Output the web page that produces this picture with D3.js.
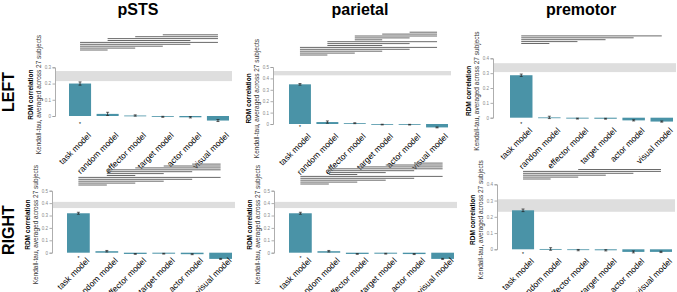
<!DOCTYPE html>
<html>
<head>
<meta charset="utf-8">
<script src="https://cdn.jsdelivr.net/npm/d3@7"></script>
<style>
  body { margin: 0; background: #fff; }
  svg text { font-family: "Liberation Sans", Arial, sans-serif; }
</style>
</head>
<body>
<div id="chart"></div>
<script>
var svgWidth = 677;
var svgHeight = 292;

// data
var models = ["task model", "random model", "effector model", "target model", "actor model", "visual model"];
var regions = ["pSTS", "parietal", "premotor"];
var hemispheres = ["LEFT", "RIGHT"];

var leftMeans = [
  [0.200, 0.013, 0.003, -0.005, -0.008, -0.028],
  [0.348, 0.017, 0.007, -0.005, -0.006, -0.030],
  [0.286, 0.002, -0.006, -0.007, -0.018, -0.026]
];
var leftErrors = [
  [0.010, 0.010, 0.004, 0.003, 0.004, 0.006],
  [0.007, 0.010, 0.004, 0.003, 0.003, 0.004],
  [0.008, 0.008, 0.003, 0.003, 0.004, 0.004]
];
var rightMeans = [
  [0.318, 0.012, -0.010, -0.008, -0.012, -0.050],
  [0.318, 0.012, -0.010, -0.008, -0.011, -0.050],
  [0.240, 0.002, -0.005, -0.006, -0.016, -0.016]
];
var rightErrors = [
  [0.008, 0.006, 0.003, 0.003, 0.004, 0.004],
  [0.008, 0.006, 0.003, 0.003, 0.004, 0.004],
  [0.008, 0.008, 0.004, 0.004, 0.006, 0.004]
];
// noise ceiling (lower, upper)
var leftCeilings = [[0.215, 0.277], [0.427, 0.465], [0.307, 0.367]];
var rightCeilings = [[0.360, 0.410], [0.360, 0.410], [0.231, 0.308]];
var leftTicks = [[0, 0.1, 0.2, 0.3], [0, 0.1, 0.2, 0.3, 0.4, 0.5], [0, 0.1, 0.2, 0.3, 0.4]];
var rightTicks = [[0, 0.1, 0.2, 0.3, 0.4, 0.5], [0, 0.1, 0.2, 0.3, 0.4, 0.5], [0, 0.1, 0.2, 0.3, 0.4]];

// significant pairwise differences, listed bottom line first
var leftSig = [
  [[0,1],[0,2],[0,3],[0,4],[0,5],[1,4],[1,5],[2,5],[3,5]],
  [[0,1],[0,2],[0,3],[0,4],[0,5],[1,3],[1,4],[1,5],[2,3],[2,4],[2,5],[3,5],[4,5]],
  [[0,1],[0,2],[0,3],[0,4],[0,5]]
];
var rightSig = [
  [[0,1],[0,2],[0,3],[0,4],[0,5],[1,2],[1,3],[1,4],[1,5],[2,5],[3,5],[4,5]],
  [[0,1],[0,2],[0,3],[0,4],[0,5],[1,2],[1,3],[1,4],[1,5],[2,5],[3,5],[4,5]],
  [[0,1],[0,2],[0,3],[0,4],[0,5],[2,5]]
];

// panel frames (pixels)
var frames = [
  [
    {axisX: 55, barL: 69, barR: 229, yTop: 67.3, y0: 116, sigY: 50, labelDy: 20, starDy: 10},
    {axisX: 273, barL: 289, barR: 448, yTop: 67, y0: 124, sigY: 55, labelDy: 13, starDy: 5},
    {axisX: 493, barL: 510, barR: 673, yTop: 58.3, y0: 117.7, sigY: 43.5, labelDy: 13.5, starDy: 8}
  ],
  [
    {axisX: 52, barL: 67, barR: 232, yTop: 190.7, y0: 252.7, sigY: 185, labelDy: 8.5, starDy: 7.5},
    {axisX: 274, barL: 289, barR: 454, yTop: 190.7, y0: 252.7, sigY: 184, labelDy: 8.5, starDy: 7},
    {axisX: 497, barL: 512, barR: 672, yTop: 184.3, y0: 249.3, sigY: 179, labelDy: 12.5, starDy: 7}
  ]
];
var titleX = [138, 360, 581];

var barColor = "#4a93a7";

var svg = d3.select("#chart")
  .append("svg")
  .attr("width", svgWidth)
  .attr("height", svgHeight);

// column titles
svg.selectAll(".title")
  .data(regions)
  .enter()
  .append("text")
  .attr("class", "title")
  .attr("x", (d, i) => titleX[i])
  .attr("y", 15)
  .attr("text-anchor", "middle")
  .attr("font-size", "16px")
  .attr("font-weight", "bold")
  .text(d => d);

// row labels
[92, 230].forEach(function(cy, i) {
  svg.append("text")
    .attr("transform", `translate(14, ${cy}) rotate(-90)`)
    .attr("text-anchor", "middle")
    .attr("font-size", "16px")
    .attr("font-weight", "bold")
    .text(hemispheres[i]);
});

function drawPanel(f, means, errors, ceiling, ticks, sig) {
  var g = svg.append("g");
  var yMax = ticks[ticks.length - 1];

  var yScale = d3.scaleLinear()
    .domain([0, yMax])
    .range([f.y0, f.yTop]);

  var step = (f.barR - f.barL) / 5.8;
  var xScale = d3.scaleBand()
    .domain(models)
    .range([f.barL - 0.1 * step, f.barR + 0.1 * step])
    .paddingInner(0.2)
    .paddingOuter(0.1);
  var cx = d => xScale(d) + xScale.bandwidth() / 2;

  // noise ceiling band
  g.append("rect")
    .attr("x", f.axisX + 1)
    .attr("width", f.barR + 2 - f.axisX)
    .attr("y", yScale(ceiling[1]))
    .attr("height", yScale(ceiling[0]) - yScale(ceiling[1]))
    .attr("fill", "#dedede");

  // y axis
  var leftAxis = d3.axisLeft(yScale)
    .tickValues(ticks)
    .tickSize(2.5)
    .tickPadding(1.5)
    .tickFormat(d => d === 0 ? "0" : d3.format(".1f")(d));

  var axisG = g.append("g")
    .attr("transform", `translate(${f.axisX}, 0)`)
    .call(leftAxis);
  axisG.select(".domain").attr("stroke", "#999").attr("stroke-width", 0.8);
  axisG.selectAll(".tick line").attr("stroke", "#999").attr("stroke-width", 0.8);
  axisG.selectAll(".tick text")
    .attr("font-size", "4.5px")
    .attr("fill", "#888")
    .attr("font-family", "Liberation Sans, Arial, sans-serif");

  // axis titles
  var cy = (f.y0 + f.yTop) / 2 + 3;
  g.append("text")
    .attr("transform", `translate(${f.axisX - 22}, ${cy}) rotate(-90)`)
    .attr("text-anchor", "middle")
    .attr("font-size", "6.5px")
    .attr("font-weight", "bold")
    .text("RDM correlation");
  g.append("text")
    .attr("transform", `translate(${f.axisX - 14}, ${cy}) rotate(-90)`)
    .attr("text-anchor", "middle")
    .attr("font-size", "6.5px")
    .attr("fill", "#333")
    .text("Kendall-tau, averaged across 27 subjects");

  // bars
  g.selectAll(".bar")
    .data(means)
    .enter()
    .append("rect")
    .attr("class", "bar")
    .attr("x", (d, i) => xScale(models[i]))
    .attr("width", xScale.bandwidth())
    .attr("y", d => yScale(Math.max(0, d)))
    .attr("height", d => Math.max(0.8, Math.abs(yScale(d) - yScale(0))))
    .attr("fill", barColor);

  // error bars
  var eb = g.selectAll(".err")
    .data(means)
    .enter()
    .append("g")
    .attr("transform", (d, i) => `translate(${cx(models[i])}, 0)`);
  eb.append("line")
    .attr("y1", (d, i) => yScale(d + errors[i]))
    .attr("y2", (d, i) => yScale(d - errors[i]))
    .attr("stroke", "#222")
    .attr("stroke-width", 0.8);
  [1, -1].forEach(function(s) {
    eb.append("line")
      .attr("x1", -1.5).attr("x2", 1.5)
      .attr("y1", (d, i) => yScale(d + s * errors[i]))
      .attr("y2", (d, i) => yScale(d + s * errors[i]))
      .attr("stroke", "#222")
      .attr("stroke-width", 0.7);
  });

  // significance star under the best model
  g.append("text")
    .attr("x", cx(models[0]))
    .attr("y", f.y0 + f.starDy)
    .attr("text-anchor", "middle")
    .attr("font-size", "5px")
    .text("*");

  // model labels
  g.selectAll(".xlab")
    .data(models)
    .enter()
    .append("text")
    .attr("class", "xlab")
    .attr("transform", d => `translate(${cx(d) + 11.5}, ${f.y0 + f.labelDy}) rotate(-45)`)
    .attr("text-anchor", "end")
    .attr("font-size", "8.5px")
    .text(d => d);

  // pairwise comparison lines
  g.selectAll(".sig")
    .data(sig)
    .enter()
    .append("line")
    .attr("x1", d => cx(models[d[0]]))
    .attr("x2", d => cx(models[d[1]]))
    .attr("y1", (d, i) => f.sigY - i * 1.9)
    .attr("y2", (d, i) => f.sigY - i * 1.9)
    .attr("stroke", "#6a6a6a")
    .attr("stroke-width", 1);
}

regions.forEach(function(r, i) {
  drawPanel(frames[0][i], leftMeans[i], leftErrors[i], leftCeilings[i], leftTicks[i], leftSig[i]);
  drawPanel(frames[1][i], rightMeans[i], rightErrors[i], rightCeilings[i], rightTicks[i], rightSig[i]);
});
</script>
</body>
</html>
